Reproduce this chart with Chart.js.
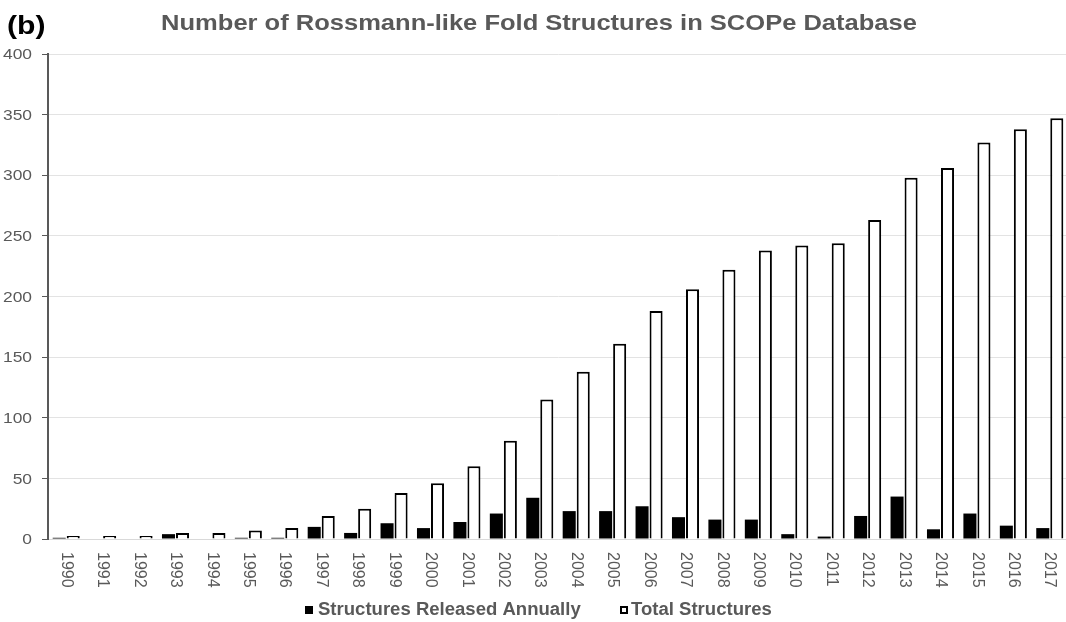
<!DOCTYPE html>
<html>
<head>
<meta charset="utf-8">
<script src="https://cdn.jsdelivr.net/npm/chart.js@4.4.1/dist/chart.umd.min.js"></script>
<style>
  html, body { margin: 0; padding: 0; background: #ffffff; overflow: hidden; width: 1066px; height: 622px; }
  canvas { display: block; }
</style>
</head>
<body>
<canvas id="c" width="1076" height="622"></canvas>
<script>
const years = ['1990','1991','1992','1993','1994','1995','1996','1997','1998','1999',
  '2000','2001','2002','2003','2004','2005','2006','2007','2008','2009',
  '2010','2011','2012','2013','2014','2015','2016','2017'];
const releasedAnnually = [1, 0, 0, 4, 0, 1, 1, 10, 5, 13,
  9, 14, 21, 34, 23, 23, 27, 18, 16, 16,
  4, 2, 19, 35, 8, 21, 11, 9];
const totalStructures = [1, 1, 1, 5, 5, 7, 9, 19, 25, 38,
  46, 60, 81, 115, 138, 161, 188, 206, 222, 238,
  242, 244, 263, 298, 306, 327, 338, 347];
const yTicks = [0, 50, 100, 150, 200, 250, 300, 350, 400];
const seriesNames = ['Structures Released Annually', 'Total Structures'];

const chartTitle = 'Number of Rossmann-like Fold Structures in SCOPe Database';
const panelLabel = '(b)';
const FONT = "'Liberation Sans', Arial, sans-serif";
const GREY = '#595959';
const HS = 1.16; // horizontal stretch of the reference's text

function stretchedText(ctx, text, x, y, align, sx) {
  const w = ctx.measureText(text).width * sx;
  let left = x;
  if (align === 'center') left = x - w / 2;
  else if (align === 'right') left = x - w;
  ctx.save();
  ctx.translate(left, y);
  ctx.scale(sx, 1);
  ctx.textAlign = 'left';
  ctx.fillText(text, 0, 0);
  ctx.restore();
  return w;
}

const overlay = {
  id: 'overlay',
  afterDraw(chart) {
    const ctx = chart.ctx;
    const xs = chart.scales.x;
    const ys = chart.scales.y;
    ctx.save();
    ctx.textBaseline = 'alphabetic';
    // panel label
    ctx.fillStyle = '#000000';
    ctx.font = 'bold 26px ' + FONT;
    stretchedText(ctx, panelLabel, 7, 34, 'left', HS);
    // title
    ctx.fillStyle = GREY;
    ctx.font = 'bold 22px ' + FONT;
    stretchedText(ctx, chartTitle, 539, 30, 'center', HS);
    // y labels
    ctx.font = '15px ' + FONT;
    ctx.textBaseline = 'middle';
    yTicks.forEach(v => {
      stretchedText(ctx, String(v), 32, ys.getPixelForValue(v) + 1, 'right', HS);
    });
    // x labels, rotated to read top to bottom
    ctx.font = '16px ' + FONT;
    ctx.textAlign = 'left';
    ctx.textBaseline = 'middle';
    years.forEach((lab, i) => {
      const x = xs.getPixelForTick(i);
      ctx.save();
      ctx.translate(x, 552);
      ctx.rotate(Math.PI / 2);
      ctx.fillText(lab, 0, 0);
      ctx.restore();
    });
    // legend
    ctx.font = 'bold 18px ' + FONT;
    ctx.textBaseline = 'alphabetic';
    ctx.fillStyle = '#000000';
    ctx.fillRect(305, 606, 8, 8);
    ctx.fillStyle = GREY;
    stretchedText(ctx, seriesNames[0], 318, 615, 'left', 1.03);
    ctx.fillStyle = '#ffffff';
    ctx.fillRect(620, 606, 8, 8);
    ctx.strokeStyle = '#000000';
    ctx.lineWidth = 2;
    ctx.strokeRect(621, 607, 6, 6);
    ctx.fillStyle = GREY;
    stretchedText(ctx, seriesNames[1], 631, 615, 'left', 1.03);
    ctx.restore();
  }
};

new Chart(document.getElementById('c'), {
  type: 'bar',
  data: {
    labels: years,
    datasets: [
      {
        label: seriesNames[0],
        data: releasedAnnually,
        backgroundColor: '#000000',
        borderColor: '#000000',
        borderWidth: 0,
        categoryPercentage: 0.77,
        barPercentage: 0.93
      },
      {
        label: seriesNames[1],
        data: totalStructures,
        backgroundColor: '#ffffff',
        borderColor: '#000000',
        borderWidth: 2,
        minBarLength: 3,
        categoryPercentage: 0.77,
        barPercentage: 0.93
      }
    ]
  },
  options: {
    responsive: false,
    animation: false,
    layout: { padding: { top: 54, right: 8, left: 0, bottom: 0 } },
    plugins: {
      title: { display: false },
      tooltip: { enabled: false },
      legend: { display: false }
    },
    scales: {
      x: {
        grid: { display: false, drawTicks: false },
        border: { display: true, color: '#d9d9d9', width: 1 },
        ticks: { display: false, autoSkip: false },
        afterFit(scale) { scale.height = 83; }
      },
      y: {
        min: 0, max: 400,
        afterBuildTicks(scale) { scale.ticks = yTicks.map(v => ({ value: v })); },
        grid: { color: '#e3e3e3', lineWidth: 1, tickLength: 6, tickColor: '#595959' },
        border: { display: true, color: '#595959', width: 2 },
        ticks: { color: 'rgba(0,0,0,0)', padding: 9, font: { family: FONT, size: 15 } },
        afterFit(scale) { scale.width = 48; }
      }
    }
  },
  plugins: [overlay]
});
</script>
</body>
</html>
